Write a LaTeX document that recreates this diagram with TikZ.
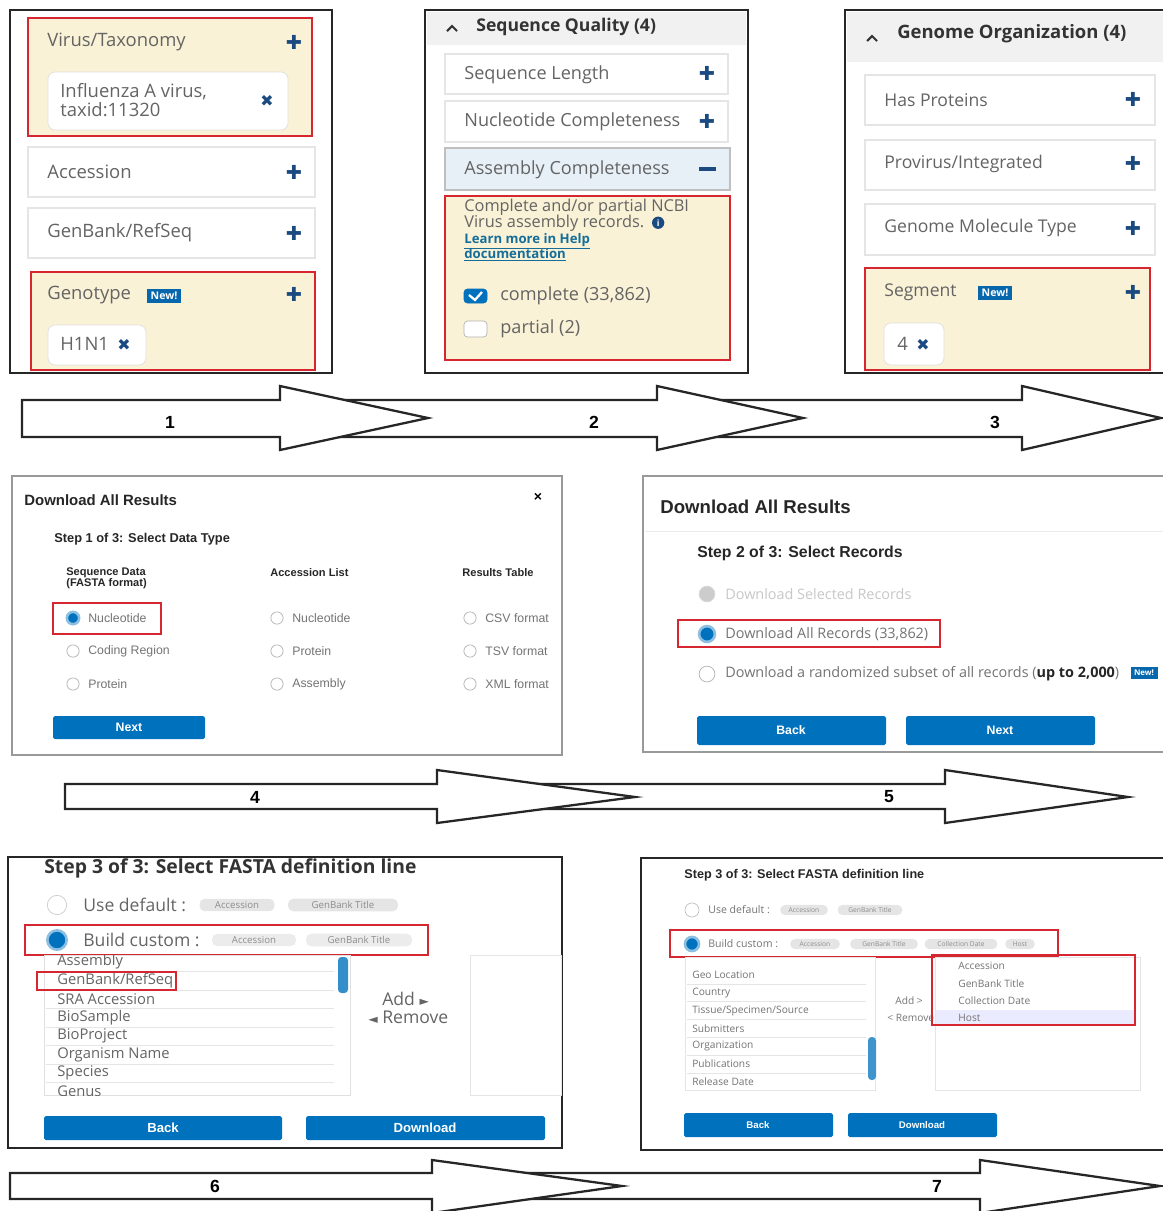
\documentclass[tikz,border=0pt]{standalone}
\usepackage{fontspec}
\usepackage{xcolor}
\usepackage{tikz}
\usetikzlibrary{positioning,calc}
\setmainfont{Open Sans}
\newfontfamily\arialfont{Liberation Sans}
\newfontfamily\symfont{DejaVu Sans}
\definecolor{selyellow}{RGB}{250, 242, 214}
\definecolor{boxred}{RGB}{214, 38, 48}
\definecolor{navyblue}{RGB}{26, 74, 128}
\definecolor{btnblue}{RGB}{0, 113, 188}
\definecolor{uigray}{RGB}{100, 100, 100}
\definecolor{headgray}{RGB}{241, 241, 241}
\definecolor{asmblue}{RGB}{232, 240, 247}

\begin{document}
\begin{tikzpicture}[
    x=0.02cm, y=-0.02cm,
    panel/.style={draw=black!85, line width=1.3pt},
    dialog/.style={draw=black!40, line width=1pt},
    facet/.style={draw=black!10, fill=white, line width=0.6pt},
    selbox/.style={draw=boxred, line width=1pt, fill=selyellow},
    redframe/.style={draw=boxred, line width=0.9pt},
    chip/.style={draw=black!12, fill=white, rounded corners=4pt},
    tag/.style={fill=black!10, rounded corners=3pt, text=black!45, inner sep=1.5pt},
    uitext/.style={anchor=west, inner sep=0pt, text=uigray, font=\fontsize{10.5}{12}\selectfont},
    notetext/.style={anchor=base west, inner sep=0pt, text=uigray, font=\fontsize{9.3}{9}\selectfont},
    linktext/.style={anchor=base west, inner sep=0pt, text=navyblue!80!cyan, font=\bfseries\fontsize{7.5}{9}\selectfont},
    headtext/.style={anchor=west, inner sep=0pt, text=black!80, font=\bfseries\fontsize{10}{11}\selectfont},
    plus/.style={inner sep=0pt, text=navyblue, font=\symfont\fontsize{11}{11}\selectfont},
    xmark/.style={inner sep=0pt, text=navyblue, font=\symfont\fontsize{9}{9}\selectfont},
    badge/.style={fill=btnblue!75!navyblue, text=white, inner sep=2pt, font=\bfseries\fontsize{6}{6}\selectfont},
    dlgtext/.style={anchor=west, inner sep=0pt, text=black!55, font=\arialfont\fontsize{7}{8}\selectfont},
    dlghead/.style={anchor=west, inner sep=0pt, text=black!85, font=\arialfont\bfseries\fontsize{8.5}{9}\selectfont},
    radio/.style={circle, draw=black!30, fill=white, inner sep=0pt, minimum size=#1},
    radio/.default=7pt,
    radioon/.style={circle, draw=btnblue!45, line width=1.5pt, fill=btnblue, inner sep=0pt, minimum size=#1},
    radioon/.default=7pt,
    btn/.style={fill=btnblue, rounded corners=1pt},
    btntext/.style={text=white, inner sep=0pt, font=\arialfont\bfseries\fontsize{7}{7}\selectfont},
    steparrow/.style={draw=black!85, fill=white, line width=1.3pt, line join=miter},
    steplabel/.style={inner sep=0pt, font=\arialfont\bfseries\fontsize{10}{10}\selectfont}
]
\useasboundingbox (0,0) rectangle (1163,1211);

% Panel 1: Virus filters
\draw[panel] (10,10) rectangle (332,373);
\draw[selbox] (28,18) rectangle (312,136);
\node[uitext] (taxLabel) at (47,42) {Virus/Taxonomy};
\node[plus] (taxPlus) at (294,42) {✚};
\draw[chip] (48,72) rectangle (288,130);
\node[uitext, align=left, font=\fontsize{10.5}{11}\selectfont] (taxChip) at (60,100) {Influenza A virus,\\taxid:11320};
\node[xmark] (taxClose) at (267,101) {✖};
\draw[facet] (28,147) rectangle (315,197);
\node[uitext] (accLabel) at (47,172) {Accession};
\node[plus] (accPlus) at (294,172) {✚};
\draw[facet] (28,208) rectangle (315,258);
\node[uitext] (gbLabel) at (47,233) {GenBank/RefSeq};
\node[plus] (gbPlus) at (294,233) {✚};
\draw[selbox] (31,272) rectangle (315,370);
\node[uitext] (genoLabel) at (47,295) {Genotype};
\node[badge] (genoNew) at (164,296) {New!};
\node[plus] (genoPlus) at (294,294) {✚};
\draw[chip] (48,325) rectangle (146,365);
\node[uitext] (genoChip) at (60,344) {H1N1};
\node[xmark] (genoClose) at (124,345) {✖};

% Panel 2: Sequence quality
\draw[panel] (425,10) rectangle (748,373);
\fill[headgray] (427,12) rectangle (746,45);
\draw[black!80, line width=1.2pt] (447,31) -- (452,26) -- (457,31);
\node[headtext] (qualHead) at (476,27) {Sequence Quality (4)};
\draw[facet] (445,54) rectangle (728,94);
\node[uitext, font=\fontsize{10.3}{12}\selectfont] (lenLabel) at (464,75) {Sequence Length};
\node[plus] (lenPlus) at (707,73) {✚};
\draw[facet] (445,101) rectangle (728,142);
\node[uitext, font=\fontsize{10.3}{12}\selectfont] (nucLabel) at (464,122) {Nucleotide Completeness};
\node[plus] (nucPlus) at (707,121) {✚};
\draw[fill=asmblue, draw=black!25, line width=0.8pt] (445,148) rectangle (730,190);
\node[uitext, font=\fontsize{10.3}{12}\selectfont] (asmLabel) at (464,170) {Assembly Completeness};
\draw[navyblue, line width=2pt] (699,169) -- (716,169);
\draw[selbox] (445,196) rectangle (730,360);
\node[notetext] (asmNoteA) at (464,211) {Complete and/or partial NCBI};
\node[notetext] (asmNoteB) at (464,227) {Virus assembly records.};
\node[circle, fill=navyblue, inner sep=0pt, minimum size=7pt, text=white, font=\bfseries\fontsize{5}{5}\selectfont, right=4pt of asmNoteB.east] (asmInfo) {i};
\node[linktext] (asmLinkA) at (464,243) {\underline{Learn more in Help}};
\node[linktext] (asmLinkB) at (464,258) {\underline{documentation}};
\draw[btnblue, fill=btnblue, rounded corners=2pt] (464,289) rectangle (487,303);
\draw[white, line width=1.3pt] (469,295) -- (475,300) -- (482,292);
\node[uitext, font=\fontsize{10.3}{12}\selectfont] (asmComplete) at (500,296) {complete (33,862)};
\draw[black!30, fill=white, rounded corners=2pt] (464,321) rectangle (487,337);
\node[uitext, font=\fontsize{10.3}{12}\selectfont] (asmPartial) at (500,329) {partial (2)};

% Panel 3: Genome organization
\draw[panel] (845,10) rectangle (1175,373);
\fill[headgray] (847,12) rectangle (1163,62);
\draw[black!80, line width=1.2pt] (867,41) -- (872,36) -- (877,41);
\node[headtext, font=\bfseries\fontsize{10.5}{11}\selectfont] (orgHead) at (897,34) {Genome Organization (4)};
\draw[facet] (865,75) rectangle (1155,125);
\node[uitext, font=\fontsize{10}{12}\selectfont] (protLabel) at (884,100) {Has Proteins};
\node[plus] (protPlus) at (1133,99) {✚};
\draw[facet] (865,140) rectangle (1155,190);
\node[uitext, font=\fontsize{10}{12}\selectfont] (provLabel) at (884,164) {Provirus/Integrated};
\node[plus] (provPlus) at (1133,163) {✚};
\draw[facet] (865,204) rectangle (1155,255);
\node[uitext, font=\fontsize{10}{12}\selectfont] (molLabel) at (884,228) {Genome Molecule Type};
\node[plus] (molPlus) at (1133,228) {✚};
\draw[selbox] (865,268) rectangle (1150,370);
\node[uitext, font=\fontsize{10}{12}\selectfont] (segLabel) at (884,292) {Segment};
\node[badge] (segNew) at (995,293) {New!};
\node[plus] (segPlus) at (1133,292) {✚};
\draw[chip] (884,323) rectangle (944,365);
\node[uitext] (segChip) at (897,344) {4};
\node[xmark] (segClose) at (923,345) {✖};

% Step arrows 1-3
\draw[steparrow] (710,400) -- (1022,400) -- (1022,386) -- (1161,418) -- (1022,450) -- (1022,437) -- (710,437) -- cycle;
\draw[steparrow] (330,400) -- (657,400) -- (657,386) -- (803,418) -- (657,450) -- (657,437) -- (330,437) -- cycle;
\draw[steparrow] (22,400) -- (280,400) -- (280,386) -- (428,418) -- (280,450) -- (280,437) -- (22,437) -- cycle;
\node[steplabel] (stepOne) at (170,422) {1};
\node[steplabel] (stepTwo) at (594,422) {2};
\node[steplabel] (stepThree) at (995,422) {3};

% Panel 4: Download, step 1
\draw[dialog] (12,476) rectangle (562,755);
\node[dlghead] (dlTitleA) at (24,500) {Download All Results};
\node[inner sep=0pt, font=\arialfont\bfseries\fontsize{8}{8}\selectfont] (dlCloseA) at (538,497) {×};
\node[dlghead, font=\arialfont\bfseries\fontsize{7.3}{8}\selectfont] (dataStep) at (54,539) {Step 1 of 3: Select Data Type};
\node[dlghead, anchor=north west, align=left, font=\arialfont\bfseries\fontsize{6.3}{6.5}\selectfont] (seqHead) at (66,567) {Sequence Data\\(FASTA format)};
\node[dlghead, font=\arialfont\bfseries\fontsize{6.3}{7}\selectfont] (accHead) at (270,573) {Accession List};
\node[dlghead, font=\arialfont\bfseries\fontsize{6.3}{7}\selectfont] (resHead) at (462,573) {Results Table};
\foreach \opt [count=\i] in {Nucleotide, Coding Region, Protein} {
  \node[radio] (seqRadio\i) at (73,{618+33*(\i-1)}) {};
  \node[dlgtext] (seqOpt\i) at (88,{618+33*(\i-1)}) {\opt};
}
\node[radioon] at (73,618) {};
\foreach \opt [count=\i] in {Nucleotide, Protein, Assembly} {
  \node[radio] (accRadio\i) at (277,{618+33*(\i-1)}) {};
  \node[dlgtext] (accOpt\i) at (292,{618+33*(\i-1)}) {\opt};
}
\foreach \opt [count=\i] in {CSV format, TSV format, XML format} {
  \node[radio] (resRadio\i) at (470,{618+33*(\i-1)}) {};
  \node[dlgtext] (resOpt\i) at (485,{618+33*(\i-1)}) {\opt};
}
\draw[redframe, line width=0.7pt] (53,603) rectangle (161,634);
\path[btn] (53,716) rectangle (205,739);
\node[btntext] (nextA) at (129,727) {Next};

% Panel 5: Download, step 2
\draw[dialog] (643,476) rectangle (1175,752);
\node[dlghead, font=\arialfont\bfseries\fontsize{10.6}{11}\selectfont] (dlTitleB) at (660,507) {Download All Results};
\draw[black!8] (645,531) -- (1163,531);
\node[dlghead, font=\arialfont\bfseries\fontsize{9}{10}\selectfont] (recStep) at (697,553) {Step 2 of 3: Select Records};
\node[radio=9pt, fill=black!20, draw=black!15] (recRadio1) at (707,594) {};
\node[dlgtext, text=black!22, font=\fontsize{8.2}{9}\selectfont] (recOpt1) at (725,594) {Download Selected Records};
\draw[redframe, line width=0.7pt] (678,620) rectangle (940,647);
\node[radioon=9pt] (recRadio2) at (707,634) {};
\node[dlgtext, font=\fontsize{8.2}{9}\selectfont] (recOpt2) at (725,634) {Download All Records (33,862)};
\node[radio=9pt] (recRadio3) at (707,674) {};
\node[dlgtext, font=\fontsize{8.2}{9}\selectfont] (recOpt3) at (725,674) {Download a randomized subset of all records (\textbf{\color{black!85}up to 2,000})};
\node[badge, font=\bfseries\fontsize{4.5}{4.5}\selectfont] (recNew) at (1144,673) {New!};
\path[btn] (697,716) rectangle (886,745);
\node[btntext] (backB) at (791,730) {Back};
\path[btn] (906,716) rectangle (1095,745);
\node[btntext] (nextB) at (1000,730) {Next};

% Step arrows 4-5
\draw[steparrow] (500,784) -- (945,784) -- (945,770) -- (1128,797) -- (945,823) -- (945,809) -- (500,809) -- cycle;
\draw[steparrow] (65,784) -- (437,784) -- (437,770) -- (635,797) -- (437,823) -- (437,809) -- (65,809) -- cycle;
\node[steplabel] (stepFour) at (255,797) {4};
\node[steplabel] (stepFive) at (889,797) {5};

% Panel 6: FASTA definition line
\draw[panel] (8,857) rectangle (562,1148);
\node[headtext, font=\bfseries\fontsize{11}{12}\selectfont] (fastaHead) at (44,868) {Step 3 of 3: Select FASTA definition line};
\node[radio=11pt, draw=black!20] (defRadio) at (57,905) {};
\node[uitext, font=\fontsize{10}{11}\selectfont] (defLabel) at (83,905) {Use default :};
\node[tag, font=\fontsize{5.5}{6}\selectfont, minimum width=1.5cm] (defAcc) at (237,905) {Accession};
\node[tag, font=\fontsize{5.5}{6}\selectfont, minimum width=2.2cm] (defTitle) at (343,905) {GenBank Title};
\draw[redframe] (25,925) rectangle (428,955);
\node[radioon=11pt] (custRadio) at (57,940) {};
\node[uitext, font=\fontsize{10}{11}\selectfont] (custLabel) at (83,940) {Build custom :};
\node[tag, fill=green!6!black!8, font=\fontsize{5.5}{6}\selectfont, minimum width=1.68cm] (custAcc) at (254,940) {Accession};
\node[tag, fill=green!6!black!8, font=\fontsize{5.5}{6}\selectfont, minimum width=2.12cm] (custTitle) at (359,940) {GenBank Title};
\draw[black!12] (44,955) rectangle (350,1095);
\begin{scope}
  \clip (44,955) rectangle (350,1095);
  \foreach \field [count=\i] in {Assembly, GenBank/RefSeq, SRA Accession, BioSample, BioProject, Organism Name, Species, Genus} {
    \node[uitext, font=\fontsize{8.4}{9}\selectfont] (fieldA\i) at (57,{962+18.5*(\i-1)}) {\field};
    \draw[black!10] (46,{971.5+18.5*(\i-1)}) -- (334,{971.5+18.5*(\i-1)});
  }
\end{scope}
\fill[btnblue!80, rounded corners=2pt] (338,957) rectangle (348,993);
\draw[redframe] (37,972) rectangle (176,990);
\node[uitext, font=\fontsize{10}{11}\selectfont] (addA) at (382,999) {Add {\symfont\fontsize{7}{7}\selectfont ►}};
\node[uitext, font=\fontsize{10}{11}\selectfont] (removeA) at (368,1017) {{\symfont\fontsize{7}{7}\selectfont ◄} Remove};
\draw[black!10] (470,955) rectangle (561,1095);
\path[btn] (44,1116) rectangle (282,1140);
\node[btntext, font=\arialfont\bfseries\fontsize{7.5}{7.5}\selectfont] (backC) at (163,1128) {Back};
\path[btn] (306,1116) rectangle (545,1140);
\node[btntext, font=\arialfont\bfseries\fontsize{7.5}{7.5}\selectfont] (downC) at (425,1128) {Download};

% Panel 7: FASTA definition line, fields added
\draw[panel] (641,858) rectangle (1175,1150);
\node[dlghead, font=\arialfont\bfseries\fontsize{7.2}{8}\selectfont] (fastaHeadB) at (684,875) {Step 3 of 3: Select FASTA definition line};
\node[radio=8pt, draw=black!25] (defRadioB) at (692,910) {};
\node[dlgtext, font=\fontsize{6}{7}\selectfont] (defLabelB) at (708,910) {Use default :};
\node[tag, font=\fontsize{3.8}{4}\selectfont, minimum width=0.96cm] (defAccB) at (804,910) {Accession};
\node[tag, font=\fontsize{3.8}{4}\selectfont, minimum width=1.3cm] (defTitleB) at (870,910) {GenBank Title};
\draw[redframe] (670,930) rectangle (1058,957);
\node[radioon=8pt] (custRadioB) at (692,944) {};
\node[dlgtext, font=\fontsize{6}{7}\selectfont] (custLabelB) at (708,944) {Build custom :};
\node[tag, font=\fontsize{3.8}{4}\selectfont, minimum width=1cm] (custAccB) at (815,944) {Accession};
\node[tag, font=\fontsize{3.8}{4}\selectfont, minimum width=1.36cm] (custTitleB) at (884,944) {GenBank Title};
\node[tag, font=\fontsize{3.8}{4}\selectfont, minimum width=1.46cm] (custDateB) at (961,944) {Collection Date};
\node[tag, font=\fontsize{3.8}{4}\selectfont, minimum width=0.6cm] (custHostB) at (1020,944) {Host};
\draw[black!10] (685,957) rectangle (875,1090);
\foreach \field [count=\i] in {Geo Location, Country, Tissue/Specimen/Source, Submitters, Organization, Publications, Release Date} {
  \node[dlgtext, font=\fontsize{5.8}{6}\selectfont] (fieldB\i) at (692,{975+17.8*(\i-1)}) {\field};
  \draw[black!10] (687,{984+17.8*(\i-1)}) -- (866,{984+17.8*(\i-1)});
}
\fill[btnblue!75, rounded corners=2pt] (868,1037) rectangle (876,1080);
\node[dlgtext, font=\fontsize{5.8}{6}\selectfont] (addB) at (895,1001) {Add >};
\node[dlgtext, font=\fontsize{5.8}{6}\selectfont] (removeB) at (887,1018) {< Remove};
\draw[black!10] (935,957) rectangle (1140,1090);
\fill[blue!8] (936,1010) rectangle (1134,1026);
\foreach \field [count=\i] in {Accession, GenBank Title, Collection Date, Host} {
  \node[dlgtext, font=\fontsize{5.8}{6}\selectfont] (chosenB\i) at (958,{966+17.4*(\i-1)}) {\field};
}
\draw[redframe] (932,955) rectangle (1135,1025);
\path[btn] (684,1113) rectangle (833,1137);
\node[btntext, font=\arialfont\bfseries\fontsize{5.5}{5.5}\selectfont] (backD) at (758,1125) {Back};
\path[btn] (848,1113) rectangle (997,1137);
\node[btntext, font=\arialfont\bfseries\fontsize{5.5}{5.5}\selectfont] (downD) at (922,1125) {Download};

% Step arrows 6-7
\draw[steparrow] (500,1173) -- (980,1173) -- (980,1160) -- (1160,1186) -- (980,1213) -- (980,1199) -- (500,1199) -- cycle;
\draw[steparrow] (10,1173) -- (432,1173) -- (432,1160) -- (622,1186) -- (432,1213) -- (432,1199) -- (10,1199) -- cycle;
\node[steplabel] (stepSix) at (215,1186) {6};
\node[steplabel] (stepSeven) at (937,1186) {7};

\end{tikzpicture}
\end{document}
